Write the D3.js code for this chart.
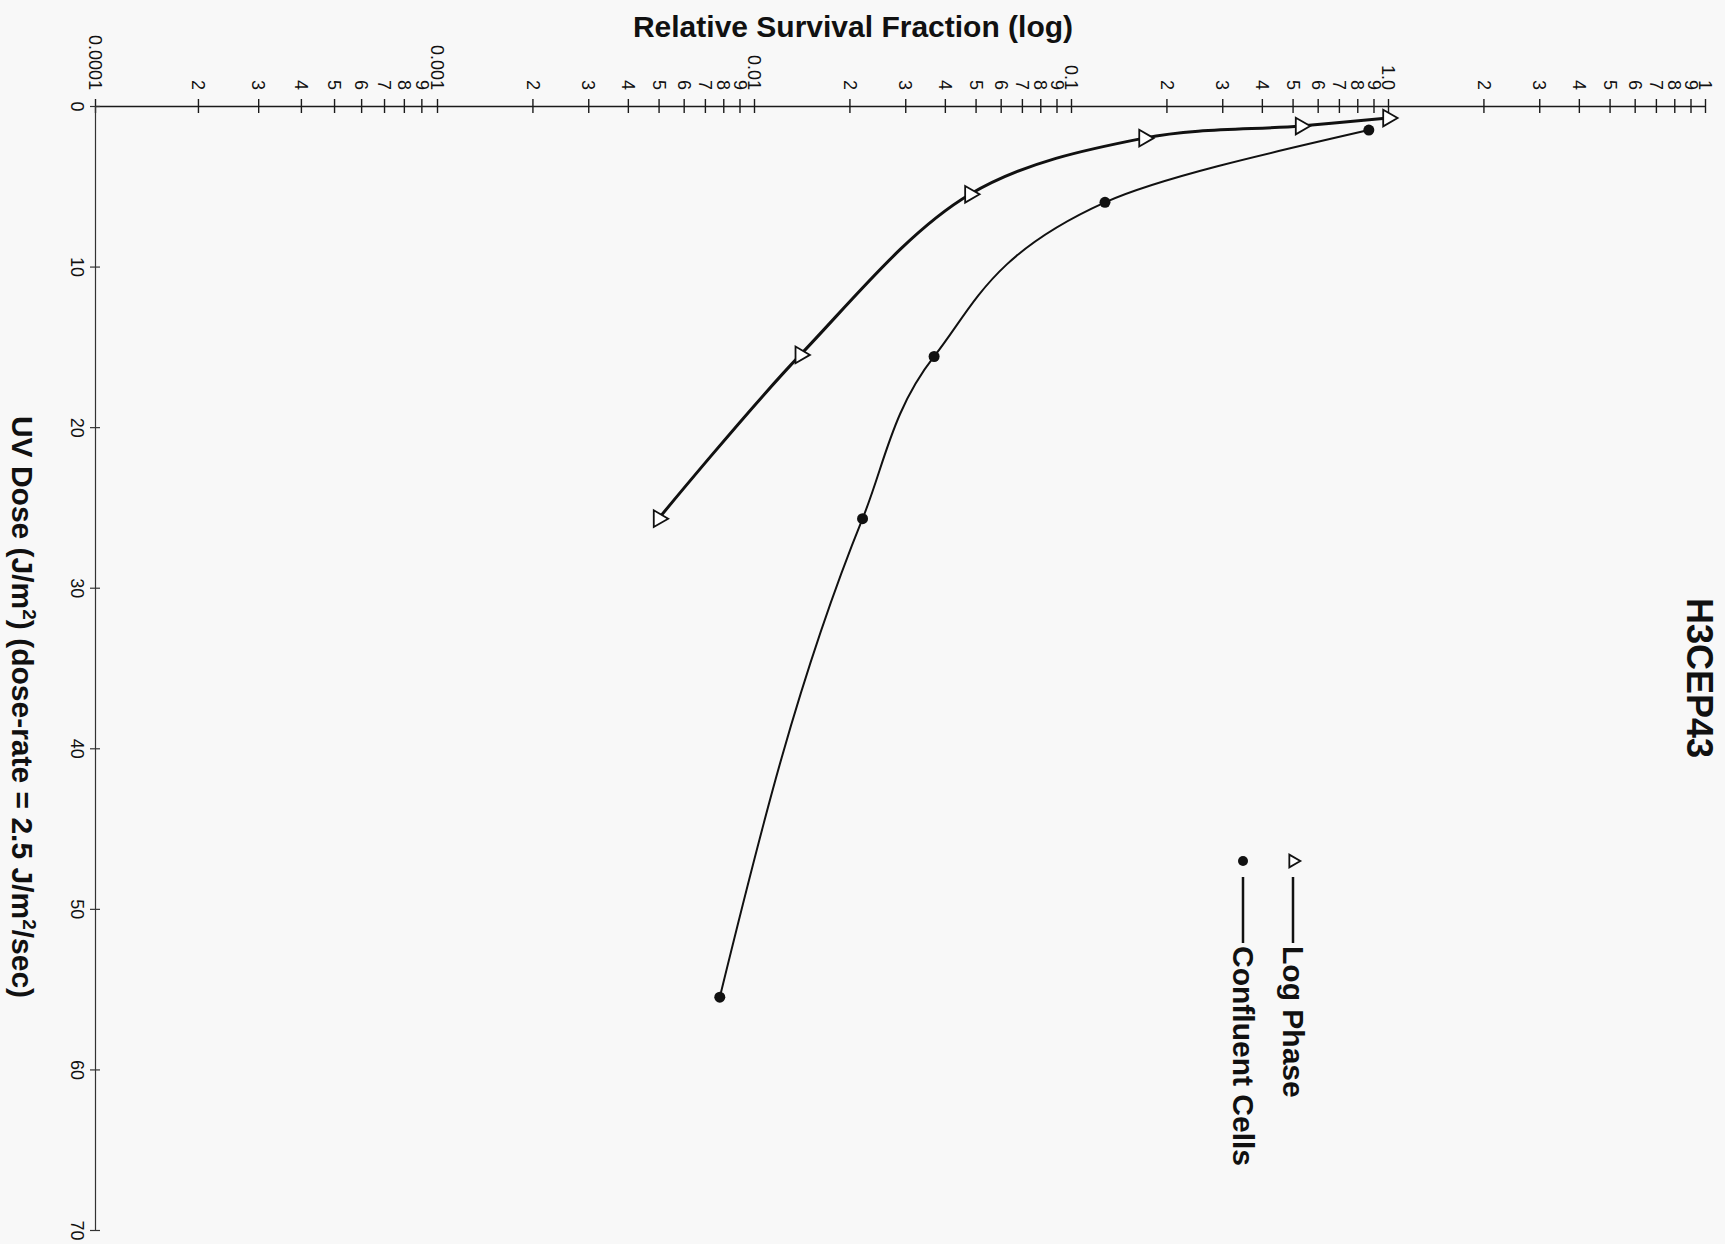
<!DOCTYPE html>
<html>
<head>
<meta charset="utf-8">
<script src="https://cdn.jsdelivr.net/npm/d3@7"></script>
<style>
  html, body { margin: 0; padding: 0; background: #f8f8f8; }
  svg { display: block; }
  text { font-family: "Liberation Sans", Arial, Helvetica, sans-serif; fill: #111; }
</style>
</head>
<body>
<svg id="chart" width="1725" height="1244"></svg>
<script>
// UV dose (J/m²) and relative survival fraction for each culture state
const logPhaseDose = [0.75, 1.25, 2.0, 5.5, 15.5, 25.7];
const logPhaseSurvival = [1.0, 0.53, 0.17, 0.048, 0.014, 0.005];
const confluentDose = [1.5, 6.0, 15.6, 25.7, 55.5];
const confluentSurvival = [0.87, 0.128, 0.037, 0.022, 0.0078];

// Axis ticks and labels
const doseTicks = [0, 10, 20, 30, 40, 50, 60, 70];
const decadeTicks = [0.0001, 0.001, 0.01, 0.1, 1, 10];
const decadeLabels = ["0.0001", "0.001", "0.01", "0.1", "1.0", "1"];
const mantissas = [2, 3, 4, 5, 6, 7, 8, 9];
const mantissaLabels = ["2", "3", "4", "5", "6", "7", "8", "9"];

const seriesNames = ["Log Phase", "Confluent Cells"];
const titleText = "Relative Survival Fraction (log)";
const chartName = "H3CEP43";

const svg = d3.select("#chart");
svg.append("rect").attr("width", 1725).attr("height", 1244).attr("fill", "#f8f8f8");

// Survival runs left→right on a log scale (first decade drawn a little wider),
// dose runs top→bottom
const x = d3.scaleLog().domain([0.0001, 0.001, 10]).range([95, 437, 1705]);
const y = d3.scaleLinear().domain([0, 70]).range([106, 1230]);

// full set of survival ticks: decades plus 2..9 within each decade
const survTicks = [];
const survLabels = new Map();
decadeTicks.forEach((d, i) => {
  survTicks.push(d);
  survLabels.set(d, decadeLabels[i]);
  if (i < decadeTicks.length - 1) {
    mantissas.forEach((m, j) => {
      const v = +(d * m).toPrecision(6);
      survTicks.push(v);
      survLabels.set(v, mantissaLabels[j]);
    });
  }
});

const xAxis = d3.axisTop(x)
  .tickValues(survTicks)
  .tickFormat(v => survLabels.get(+v.toPrecision(6)) ?? "")
  .tickSizeInner(0).tickSizeOuter(0).tickPadding(0);

const gx = svg.append("g")
  .attr("transform", `translate(0,${y(0)})`)
  .call(xAxis);
gx.select(".domain").attr("stroke", "#1a1a1a").attr("stroke-width", 1.6);
gx.selectAll(".tick line")
  .attr("y1", -7).attr("y2", 7)
  .attr("stroke", "#1a1a1a").attr("stroke-width", 1.4);
gx.selectAll(".tick text")
  .attr("x", 0).attr("y", 0).attr("dy", "0.35em")
  .attr("text-anchor", "end")
  .attr("transform", "translate(0,-16) rotate(90)")
  .attr("font-size", 18);

const yAxis = d3.axisLeft(y)
  .tickValues(doseTicks)
  .tickSizeInner(0).tickSizeOuter(0).tickPadding(0);

const gy = svg.append("g")
  .attr("transform", `translate(${x(0.0001)},0)`)
  .call(yAxis);
gy.select(".domain").attr("stroke", "#333").attr("stroke-width", 1.2);
gy.selectAll(".tick line")
  .attr("x1", -5).attr("x2", 5)
  .attr("stroke", "#333").attr("stroke-width", 1.2);
gy.selectAll(".tick text")
  .attr("x", 0).attr("y", 0).attr("dy", "0.35em")
  .attr("text-anchor", "middle")
  .attr("transform", "translate(-18,0) rotate(90)")
  .attr("font-size", 18);

// Survival curves
const logPhase = logPhaseDose.map((d, i) => ({ dose: d, surv: logPhaseSurvival[i] }));
const confluent = confluentDose.map((d, i) => ({ dose: d, surv: confluentSurvival[i] }));

const logPhaseLine = d3.line()
  .x(d => x(d.surv))
  .y(d => y(d.dose))
  .curve(d3.curveCatmullRom.alpha(0.5));

const confluentLine = d3.line()
  .x(d => x(d.surv))
  .y(d => y(d.dose))
  .curve(d3.curveMonotoneY);

svg.append("path").datum(confluent)
  .attr("d", confluentLine)
  .attr("fill", "none").attr("stroke", "#111").attr("stroke-width", 2);

svg.append("path").datum(logPhase)
  .attr("d", logPhaseLine)
  .attr("fill", "none").attr("stroke", "#111").attr("stroke-width", 3);

const triangle = d3.symbol().type(d3.symbolTriangle).size(120);

svg.append("g").selectAll("circle")
  .data(confluent).join("circle")
  .attr("cx", d => x(d.surv)).attr("cy", d => y(d.dose))
  .attr("r", 5.5).attr("fill", "#111");

svg.append("g").selectAll("path")
  .data(logPhase).join("path")
  .attr("d", triangle)
  .attr("transform", d => `translate(${x(d.surv)},${y(d.dose)}) rotate(90)`)
  .attr("fill", "#fff").attr("stroke", "#111").attr("stroke-width", 1.8);

// Title along the survival axis
svg.append("text")
  .attr("x", 853).attr("y", 37)
  .attr("text-anchor", "middle")
  .attr("font-size", 30).attr("font-weight", "bold")
  .text(titleText);

// Dose axis title, reading downward
const doseLabel = svg.append("text")
  .attr("transform", "translate(22,707) rotate(90)")
  .attr("text-anchor", "middle")
  .attr("dy", "0.35em")
  .attr("font-size", 30).attr("font-weight", "bold");
doseLabel.append("tspan").text("UV Dose (J/m");
doseLabel.append("tspan").attr("dy", -11).attr("font-size", 19).text("2");
doseLabel.append("tspan").attr("dy", 11).text(") (dose-rate = 2.5 J/m");
doseLabel.append("tspan").attr("dy", -11).attr("font-size", 19).text("2");
doseLabel.append("tspan").attr("dy", 11).text("/sec)");

// Chart name
svg.append("text")
  .attr("transform", "translate(1700,678) rotate(90)")
  .attr("text-anchor", "middle")
  .attr("dy", "0.35em")
  .attr("font-size", 36).attr("font-weight", "bold")
  .text(chartName);

// Legend
const legend = svg.append("g");
const legendX = [1293, 1243];
seriesNames.forEach((name, i) => {
  const lx = legendX[i];
  if (i === 0) {
    legend.append("path")
      .attr("d", d3.symbol().type(d3.symbolTriangle).size(70))
      .attr("transform", `translate(${lx},861) rotate(90)`)
      .attr("fill", "#fff").attr("stroke", "#111").attr("stroke-width", 1.8);
  } else {
    legend.append("circle").attr("cx", lx).attr("cy", 861).attr("r", 5).attr("fill", "#111");
  }
  legend.append("line")
    .attr("x1", lx).attr("x2", lx).attr("y1", 877).attr("y2", 943)
    .attr("stroke", "#111").attr("stroke-width", 2.5);
  legend.append("text")
    .attr("transform", `translate(${lx},946) rotate(90)`)
    .attr("dy", "0.35em")
    .attr("font-size", 30).attr("font-weight", "bold")
    .text(name);
});
</script>
</body>
</html>
